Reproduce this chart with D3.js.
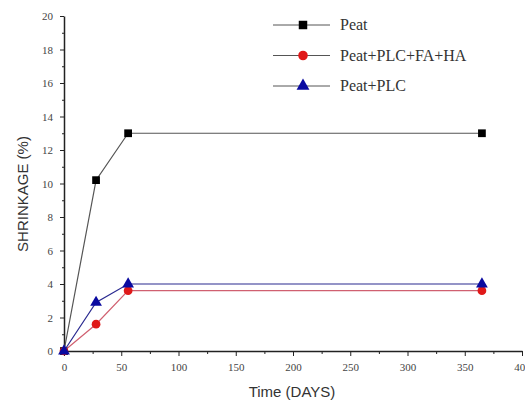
<!DOCTYPE html>
<html>
<head>
<meta charset="utf-8">
<script src="https://cdn.jsdelivr.net/npm/d3@7"></script>
<style>
	body { margin: 0; background: #fff; }
	.tick text { font-family: "Liberation Serif", "Times New Roman", serif; font-size: 11px; fill: #444; }
	.axis path, .axis line { stroke: #222; }
</style>
</head>
<body>
<script>

// data
const days = [0, 28, 56, 365]
const peat = [0, 10.2, 13, 13]
const peatPlcFaHa = [0, 1.6, 3.6, 3.6]
const peatPlc = [0, 2.9, 4.0, 4.0]
const seriesNames = ['Peat', 'Peat+PLC+FA+HA', 'Peat+PLC']
const xTicks = [0, 50, 100, 150, 200, 250, 300, 350, 400]
const yTicks = [0, 2, 4, 6, 8, 10, 12, 14, 16, 18, 20]

const width = 525, height = 407
const margin = {left: 64, right: 3, top: 16, bottom: 56}

const svg = d3.select('body').append('svg')
	.attr('width', width)
	.attr('height', height)

const x = d3.scaleLinear().domain([0, 400]).range([margin.left, width - margin.right])
const y = d3.scaleLinear().domain([0, 20]).range([height - margin.bottom, margin.top])

//minor ticks first
svg.append('g').attr('class', 'axis')
	.attr('transform', 'translate(0,' + y(0) + ')')
	.call(d3.axisBottom(x).tickValues(d3.range(25, 400, 50)).tickSize(3).tickFormat(''))
	.select('.domain').remove()
svg.append('g').attr('class', 'axis')
	.attr('transform', 'translate(' + x(0) + ',0)')
	.call(d3.axisLeft(y).tickValues(d3.range(1, 20, 2)).tickSize(2).tickFormat(''))
	.select('.domain').remove()

//main axes
const xAxis = svg.append('g').attr('class', 'axis')
	.attr('transform', 'translate(0,' + y(0) + ')')
	.call(d3.axisBottom(x).tickValues(xTicks).tickSize(5).tickSizeOuter(0))
xAxis.select('.domain').attr('stroke-width', 1.5)
xAxis.selectAll('.tick text').attr('dy', '1.1em')

const yAxis = svg.append('g').attr('class', 'axis')
	.attr('transform', 'translate(' + x(0) + ',0)')
	.call(d3.axisLeft(y).tickValues(yTicks).tickSize(4).tickSizeOuter(0).tickPadding(7))
yAxis.select('.domain').attr('stroke-width', 1.5)

//axis titles
svg.append('text')
	.attr('x', 292).attr('y', 397)
	.attr('text-anchor', 'middle')
	.style('font-family', '"Liberation Sans", Arial, sans-serif')
	.style('font-size', '15px').style('fill', '#333')
	.text('Time (DAYS)')
svg.append('text')
	.attr('transform', 'translate(28,' + 194 + ') rotate(-90)')
	.attr('text-anchor', 'middle')
	.style('font-family', '"Liberation Sans", Arial, sans-serif')
	.style('font-size', '15px').style('fill', '#333')
	.text('SHRINKAGE (%)')

const series = [
	{name: seriesNames[0], values: peat, line: '#555', fill: '#000', shape: d3.symbolSquare},
	{name: seriesNames[1], values: peatPlcFaHa, line: '#d06070', fill: '#e01818', shape: d3.symbolCircle},
	{name: seriesNames[2], values: peatPlc, line: '#2a2a90', fill: '#0a0aa0', shape: d3.symbolTriangle}
]

const line = d3.line().x(d => x(d[0])).y(d => y(d[1]))

series.forEach(s => {
	let pts = days.map((d, i) => [d, s.values[i]])
	svg.append('path')
		.attr('d', line(pts))
		.attr('fill', 'none')
		.attr('stroke', s.line)
		.attr('stroke-width', 1.2)
	svg.selectAll(null).data(pts).enter().append('path')
		.attr('transform', d => 'translate(' + x(d[0]) + ',' + y(d[1]) + ')')
		.attr('d', d3.symbol().type(s.shape).size(60))
		.attr('fill', s.fill)
})

//Legend
const legend = svg.append('g')
series.forEach((s, i) => {
	let ly = 25 + i * 30.5
	legend.append('line')
		.attr('x1', 273).attr('x2', 330).attr('y1', ly).attr('y2', ly)
		.attr('stroke', '#555').attr('stroke-width', 1)
	legend.append('path')
		.attr('transform', 'translate(303,' + ly + ')')
		.attr('d', d3.symbol().type(s.shape).size(72))
		.attr('fill', s.fill)
	legend.append('text')
		.attr('x', 340).attr('y', ly + 5)
		.style('font-family', '"Liberation Serif", "Times New Roman", serif')
		.style('font-size', '16px').style('fill', '#333')
		.text(s.name)
})

</script>
</body>
</html>
